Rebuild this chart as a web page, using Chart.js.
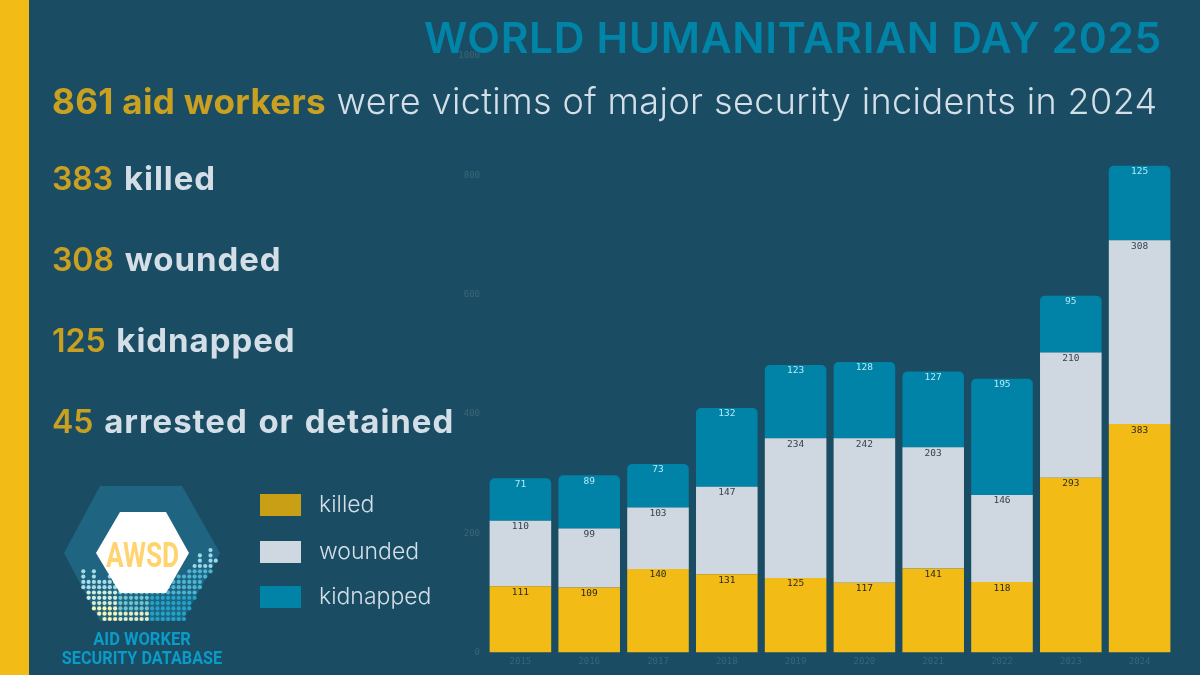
<!DOCTYPE html>
<html>
<head>
<meta charset="utf-8">
<title>World Humanitarian Day 2025</title>
<script src="https://cdn.jsdelivr.net/npm/chart.js@4"></script>
<style>
    html, body { margin: 0; padding: 0; }
    body { width: 1200px; height: 675px; overflow: hidden; background: #1a4d63; position: relative; font-family: Inter, sans-serif; }
    #stripe { position: absolute; left: 0; top: 0; width: 29px; height: 675px; background: #f3bb15; }
    #chart { position: absolute; left: 0; top: 0; }
    #logo { position: absolute; left: 0; top: 470px; }
    .txt { position: absolute; white-space: nowrap; line-height: 1; }
    .gold { color: #c9a020; }
    .pale { color: #d3dee7; }
    #title { right: 38px; top: 17px; font-size: 42.5px; font-weight: 600; color: #0085a8; letter-spacing: 0.68px; }
    #sub { left: 52px; top: 83px; font-size: 36px; font-weight: 300; color: #d3dee7; letter-spacing: 0.4px; }
    #sub b { font-weight: 700; font-size: 35px; letter-spacing: 0.35px; }
    .stat { left: 52px; font-size: 33px; font-weight: 700; letter-spacing: 0.95px; word-spacing: 2px; }
    .stat .gold { font-size: 32px; font-weight: 600; letter-spacing: 0; }
    .swatch { position: absolute; left: 260px; width: 41px; height: 22px; }
    .leg { position: absolute; left: 319px; font-size: 23px; font-weight: 300; color: #d3dee7; line-height: 1; }
</style>
</head>
<body>
<div id="stripe"></div>
<canvas id="chart" width="1200" height="675"></canvas>
<div id="title" class="txt">WORLD HUMANITARIAN DAY 2025</div>
<div id="sub" class="txt"><b class="gold">861 aid workers</b> were victims of major security incidents in 2024</div>
<div class="txt stat pale" style="top:162px"><span class="gold">383</span> killed</div>
<div class="txt stat pale" style="top:243px"><span class="gold">308</span> wounded</div>
<div class="txt stat pale" style="top:324px"><span class="gold">125</span> kidnapped</div>
<div class="txt stat pale" style="top:405px"><span class="gold">45</span> arrested or detained</div>
<div class="swatch" style="top:494px;background:#c9a015"></div>
<div class="leg" style="top:493px">killed</div>
<div class="swatch" style="top:541px;background:#cfd8e1"></div>
<div class="leg" style="top:540px">wounded</div>
<div class="swatch" style="top:586px;background:#0083a6"></div>
<div class="leg" style="top:585px">kidnapped</div>
<svg id="logo" width="240" height="205" xmlns="http://www.w3.org/2000/svg"></svg>

<script>
const years = ['2015', '2016', '2017', '2018', '2019', '2020', '2021', '2022', '2023', '2024'];
const killed = [111, 109, 140, 131, 125, 117, 141, 118, 293, 383];
const wounded = [110, 99, 103, 147, 234, 242, 203, 146, 210, 308];
const kidnapped = [71, 89, 73, 132, 123, 128, 127, 195, 95, 125];
const yTicks = [0, 200, 400, 600, 800, 1000];

const tickColor = '#3a6578';
const monoFont = '"DejaVu Sans Mono", "Liberation Mono", monospace';

// value labels sit just inside the top of each segment
const segmentLabels = {
    id: 'segmentLabels',
    afterDatasetsDraw(chart) {
        const ctx = chart.ctx;
        ctx.save();
        ctx.font = '9.5px ' + monoFont;
        ctx.textAlign = 'center';
        ctx.textBaseline = 'middle';
        chart.data.datasets.forEach((ds, i) => {
            ctx.fillStyle = ds.labelColor;
            chart.getDatasetMeta(i).data.forEach((bar, j) => {
                ctx.fillText(ds.data[j], bar.x, bar.y + 6);
            });
        });
        ctx.restore();
    }
};

new Chart(document.getElementById('chart').getContext('2d'), {
    type: 'bar',
    data: {
        labels: years,
        datasets: [
            { label: 'killed', data: killed, backgroundColor: '#f3bb15', labelColor: '#2a2a22' },
            { label: 'wounded', data: wounded, backgroundColor: '#cfd8e1', labelColor: '#36424f' },
            { label: 'kidnapped', data: kidnapped, backgroundColor: '#0083a6', labelColor: '#b8e8f7',
              borderRadius: { topLeft: 5, topRight: 5, bottomLeft: 0, bottomRight: 0 }, borderSkipped: false }
        ]
    },
    plugins: [segmentLabels],
    options: {
        responsive: false,
        animation: false,
        devicePixelRatio: 1,
        layout: { padding: { left: 440, right: 26, top: 56, bottom: 0 } },
        plugins: { legend: { display: false }, tooltip: { enabled: false } },
        datasets: { bar: { categoryPercentage: 1, barPercentage: 0.895 } },
        scales: {
            x: {
                stacked: true,
                grid: { display: false, drawTicks: false },
                border: { display: false },
                ticks: { color: tickColor, font: { family: monoFont, size: 9 }, padding: 4, maxRotation: 0 },
                afterFit(axis) { axis.height = 22.5; }
            },
            y: {
                stacked: true,
                min: 0,
                max: 1000,
                afterBuildTicks(axis) { axis.ticks = yTicks.map(v => ({ value: v })); },
                grid: { display: false, drawTicks: false },
                border: { display: false },
                ticks: { color: tickColor, font: { family: monoFont, size: 9 }, padding: 6, callback: v => String(v) },
                afterFit(axis) { axis.width = 46; }
            }
        }
    }
});

// AWSD logo, drawn as plain svg next to the chart
const svgNS = 'http://www.w3.org/2000/svg';
const logo = document.getElementById('logo');
function add(tag, attrs, text) {
    const el = document.createElementNS(svgNS, tag);
    Object.keys(attrs).forEach(k => el.setAttribute(k, attrs[k]));
    if (text) el.textContent = text;
    logo.appendChild(el);
    return el;
}
add('polygon', { points: '64,83 100,16 182,16 220,83 182,151 100,151', fill: '#1f6480' });

// how many dots stand in each column of the logo, left to right
const dotColumns = [8, 10, 8, 10, 8, 8, 9, 9, 9, 9, 9, 9, 9, 9, 9, 9, 9, 9, 9, 9, 9, 10, 11, 13, 11, 14, 12];
dotColumns.forEach((n, c) => {
    const x = 78 + c * 5.3;
    for (let r = 0; r < n; r++) {
        const y = 149 - r * 5.3;
        const off = Math.abs(y - 83) * 0.55;
        if (x < 64 + off - 1 || x > 220 - off + 1) continue;
        let fill = r < 5 ? '#22a3c9' : '#4db5d3';
        if (x < 120) fill = r < 3 ? '#fbf3b4' : (r < 6 ? '#d5ecd8' : '#a8dbe5');
        else if (x < 150) fill = r < 2 ? '#e8eec0' : '#6fc5cf';
        else if (r >= 10) fill = '#9bd8e8';
        add('circle', { cx: x, cy: y, r: 2.1, fill: fill });
    }
});
add('polygon', { points: '96,83 120,42 166,42 189,83 166,123 120,123', fill: '#ffffff' });
add('text', { x: 0, y: 0, transform: 'translate(142.5 96.5) scale(0.75 1)', 'text-anchor': 'middle', 'font-family': 'Roboto', 'font-weight': 700, 'font-size': 35, fill: '#ffd470' }, 'AWSD');
add('text', { x: 0, y: 0, transform: 'translate(142 175) scale(0.87 1)', 'text-anchor': 'middle', 'font-family': 'Roboto', 'font-weight': 700, 'font-size': 19, fill: '#0a9bc8' }, 'AID WORKER');
add('text', { x: 0, y: 0, transform: 'translate(142 194) scale(0.855 1)', 'text-anchor': 'middle', 'font-family': 'Roboto', 'font-weight': 700, 'font-size': 19, fill: '#0a9bc8' }, 'SECURITY DATABASE');
</script>
</body>
</html>
